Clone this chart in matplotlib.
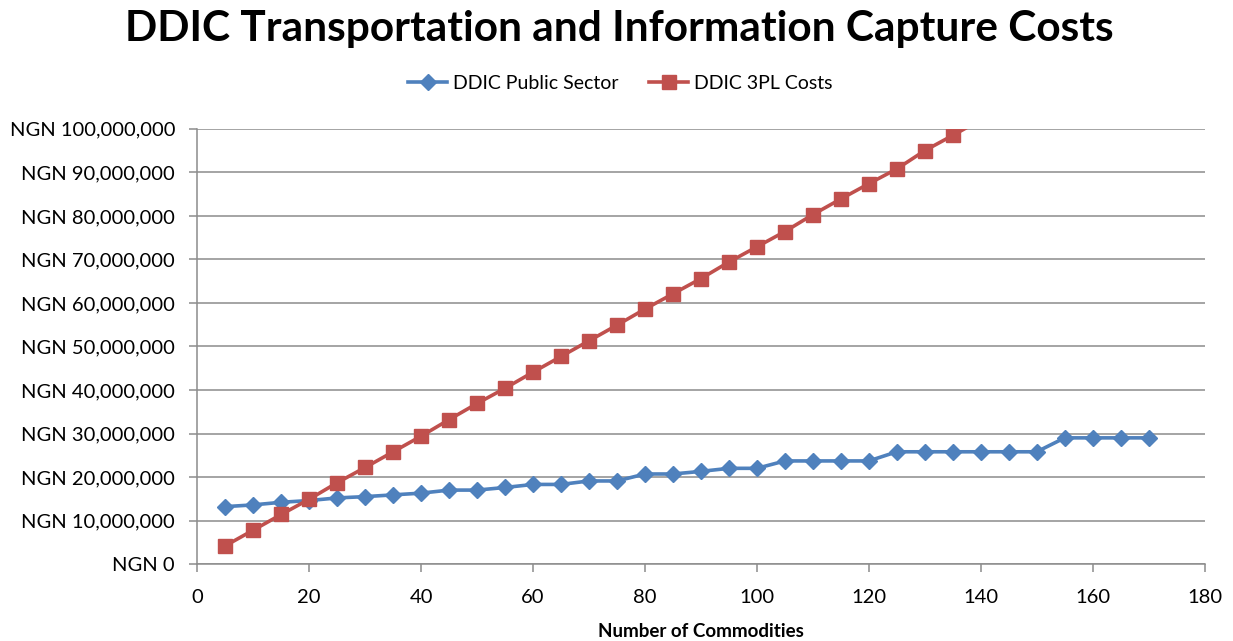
import matplotlib
matplotlib.use("Agg")
import matplotlib.pyplot as plt
from matplotlib.ticker import FuncFormatter, MultipleLocator

# Cost of transport + information capture (millions of NGN) by number of commodities
commodities = [5, 10, 15, 20, 25, 30, 35, 40, 45, 50, 55, 60, 65, 70, 75, 80, 85,
               90, 95, 100, 105, 110, 115, 120, 125, 130, 135, 140, 145, 150, 155,
               160, 165, 170]
public_sector = [13.2, 13.6, 14.2, 14.6, 15.2, 15.5, 15.9, 16.3, 17.0, 17.0, 17.6,
                 18.3, 18.3, 19.1, 19.1, 20.7, 20.7, 21.3, 22.0, 22.0, 23.7, 23.7,
                 23.7, 23.7, 25.8, 25.8, 25.8, 25.8, 25.8, 25.8, 29.0, 29.0, 29.0,
                 29.0]
threepl_x = [5, 10, 15, 20, 25, 30, 35, 40, 45, 50, 55, 60, 65, 70, 75, 80, 85,
             90, 95, 100, 105, 110, 115, 120, 125, 130, 135, 140]
threepl_costs = [4.2, 7.8, 11.4, 14.9, 18.7, 22.2, 25.8, 29.4, 33.2, 36.9, 40.4,
                 44.1, 47.7, 51.3, 54.9, 58.6, 62.1, 65.6, 69.4, 72.9, 76.4, 80.3,
                 83.9, 87.4, 90.8, 95.0, 98.5, 102.1]

BLUE = "#4f81bd"
RED = "#c0504d"
plt.rcParams["font.family"] = ["Lato", "DejaVu Sans"]


def ngn(v, pos):
    return "NGN {:,.0f}".format(v * 1e6)


def main():
    fig = plt.figure(figsize=(12.33, 6.41), dpi=100)
    ax = fig.add_axes([0.16, 0.12, 0.817, 0.679])

    ax.plot(commodities, public_sector, color=BLUE, lw=2.6, marker="D", ms=8.5,
            label="DDIC Public Sector", zorder=3)
    ax.plot(threepl_x, threepl_costs, color=RED, lw=2.6, marker="s", ms=10.5,
            label="DDIC 3PL Costs", zorder=3)

    ax.set_xlim(0, 180)
    ax.set_ylim(0, 100)
    ax.xaxis.set_major_locator(MultipleLocator(20))
    ax.yaxis.set_major_locator(MultipleLocator(10))
    ax.yaxis.set_major_formatter(FuncFormatter(ngn))
    ax.grid(axis="y", color="#8c8c8c", lw=1.1)
    ax.set_axisbelow(True)
    for s in ["top", "right"]:
        ax.spines[s].set_visible(False)
    for s in ["left", "bottom"]:
        ax.spines[s].set_color("#8c8c8c")
        ax.spines[s].set_linewidth(1.1)
    ax.tick_params(axis="both", colors="#8c8c8c", length=6, width=1.1,
                   labelcolor="black", labelsize=14.5)
    ax.tick_params(axis="y", pad=10)
    ax.tick_params(axis="x", pad=12)

    ax.set_xlabel("Number of Commodities", fontsize=13.5, fontweight="bold", labelpad=12)
    fig.suptitle("DDIC Transportation and Information Capture Costs",
                 fontsize=30.5, fontweight="bold", x=0.502, y=0.985)
    ax.legend(loc="center", bbox_to_anchor=(0.42, 1.105), ncol=2, frameon=False,
              fontsize=14, handlelength=2.0, handletextpad=0.3, columnspacing=1.6)

    fig.savefig("out.png", dpi=100)


if __name__ == "__main__":
    main()
